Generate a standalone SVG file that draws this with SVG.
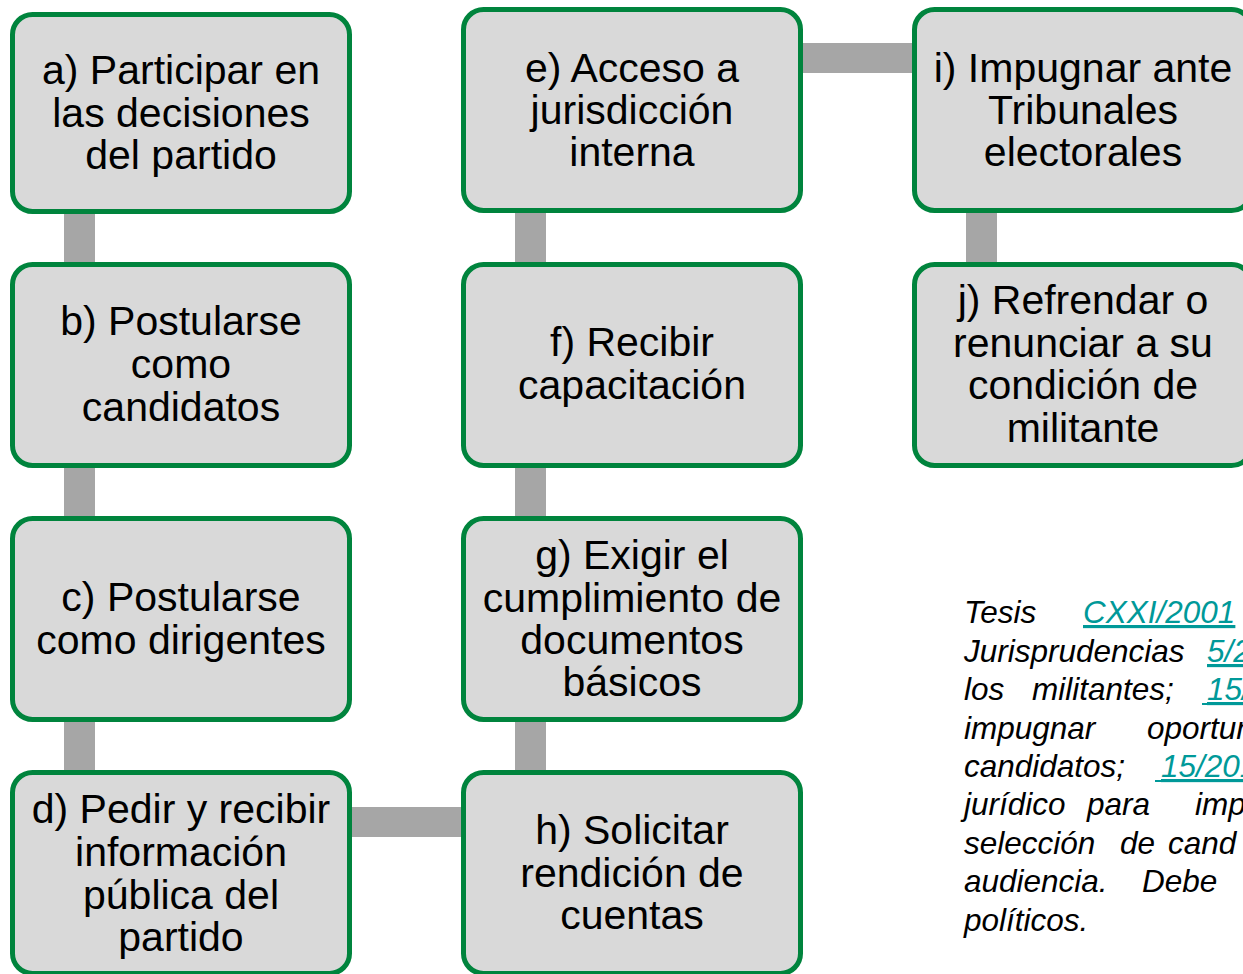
<svg xmlns="http://www.w3.org/2000/svg" width="1243" height="974" viewBox="0 0 1243 974">
<style>
.box{fill:#D9D9D9;stroke:#00843D;stroke-width:5}
.lbl{font-family:"Liberation Sans",Arial,sans-serif;font-size:41px;fill:#000;text-anchor:middle}
.bar{fill:#A6A6A6}
.note{font-family:"Liberation Sans",Arial,sans-serif;font-size:31.5px;font-style:italic;fill:#000}
.lnk{fill:#009999;text-decoration:underline}
.ul{stroke:#009999;stroke-width:2}
</style>
<rect width="1243" height="974" fill="#FFFFFF"/>
<g id="connectors">
<rect class="bar" x="64" y="210" width="31" height="56"/>
<rect class="bar" x="64" y="464" width="31" height="56"/>
<rect class="bar" x="64" y="718" width="31" height="56"/>
<rect class="bar" x="515" y="210" width="31" height="56"/>
<rect class="bar" x="515" y="464" width="31" height="56"/>
<rect class="bar" x="515" y="718" width="31" height="56"/>
<rect class="bar" x="966" y="210" width="31" height="56"/>
<rect class="bar" x="800" y="43" width="116" height="30"/>
<rect class="bar" x="349" y="807" width="116" height="30"/>
</g>
<g id="node-a">
<rect class="box" x="12.5" y="14.5" width="337" height="197" rx="20"/>
<text class="lbl"><tspan x="181" y="84">a) Participar en</tspan><tspan x="181" y="127">las decisiones</tspan><tspan x="181" y="169">del partido</tspan></text>
</g>
<g id="node-b">
<rect class="box" x="12.5" y="264.5" width="337" height="201" rx="20"/>
<text class="lbl"><tspan x="181" y="335">b) Postularse</tspan><tspan x="181" y="378">como</tspan><tspan x="181" y="421">candidatos</tspan></text>
</g>
<g id="node-c">
<rect class="box" x="12.5" y="518.5" width="337" height="201" rx="20"/>
<text class="lbl"><tspan x="181" y="611">c) Postularse</tspan><tspan x="181" y="654">como dirigentes</tspan></text>
</g>
<g id="node-d">
<rect class="box" x="12.5" y="772.5" width="337" height="201" rx="20"/>
<text class="lbl"><tspan x="181" y="823">d) Pedir y recibir</tspan><tspan x="181" y="866">información</tspan><tspan x="181" y="909">pública del</tspan><tspan x="181" y="951">partido</tspan></text>
</g>
<g id="node-e">
<rect class="box" x="463.5" y="9.5" width="337" height="201" rx="20"/>
<text class="lbl"><tspan x="632" y="82">e) Acceso a</tspan><tspan x="632" y="124">jurisdicción</tspan><tspan x="632" y="166">interna</tspan></text>
</g>
<g id="node-f">
<rect class="box" x="463.5" y="264.5" width="337" height="201" rx="20"/>
<text class="lbl"><tspan x="632" y="356">f) Recibir</tspan><tspan x="632" y="399">capacitación</tspan></text>
</g>
<g id="node-g">
<rect class="box" x="463.5" y="518.5" width="337" height="201" rx="20"/>
<text class="lbl"><tspan x="632" y="569">g) Exigir el</tspan><tspan x="632" y="612">cumplimiento de</tspan><tspan x="632" y="654">documentos</tspan><tspan x="632" y="696">básicos</tspan></text>
</g>
<g id="node-h">
<rect class="box" x="463.5" y="772.5" width="337" height="201" rx="20"/>
<text class="lbl"><tspan x="632" y="844">h) Solicitar</tspan><tspan x="632" y="887">rendición de</tspan><tspan x="632" y="929">cuentas</tspan></text>
</g>
<g id="node-i">
<rect class="box" x="914.5" y="9.5" width="337" height="201" rx="20"/>
<text class="lbl"><tspan x="1083" y="82">i) Impugnar ante</tspan><tspan x="1083" y="124">Tribunales</tspan><tspan x="1083" y="166">electorales</tspan></text>
</g>
<g id="node-j">
<rect class="box" x="914.5" y="264.5" width="337" height="201" rx="20"/>
<text class="lbl"><tspan x="1083" y="314">j) Refrendar o</tspan><tspan x="1083" y="357">renunciar a su</tspan><tspan x="1083" y="399">condición de</tspan><tspan x="1083" y="442">militante</tspan></text>
</g>
<g id="note">
<text class="note">
<tspan x="964" y="623">Tesis</tspan><tspan class="lnk" x="1083" y="623">CXXI/2001</tspan>
<tspan x="964" y="662">Jurisprudencias</tspan><tspan class="lnk" x="1207" y="662">5/2</tspan>
<tspan x="964" y="700">los</tspan><tspan x="1032" y="700">militantes;</tspan><tspan class="lnk" x="1207" y="700">15/</tspan>
<tspan x="964" y="739">impugnar</tspan><tspan x="1147" y="739">oportun</tspan>
<tspan x="964" y="777">candidatos;</tspan><tspan class="lnk" x="1161" y="777">15/201</tspan>
<tspan x="964" y="815">jurídico</tspan><tspan x="1087" y="815">para</tspan><tspan x="1195" y="815">imp</tspan>
<tspan x="964" y="854">selección</tspan><tspan x="1120" y="854">de</tspan><tspan x="1168" y="854">cand</tspan>
<tspan x="964" y="892">audiencia.</tspan><tspan x="1142" y="892">Debe</tspan>
<tspan x="964" y="931">políticos.</tspan>
</text>
<line class="ul" x1="1202" y1="704" x2="1207" y2="704"/>
<line class="ul" x1="1155" y1="781" x2="1161" y2="781"/>
</g>
</svg>
